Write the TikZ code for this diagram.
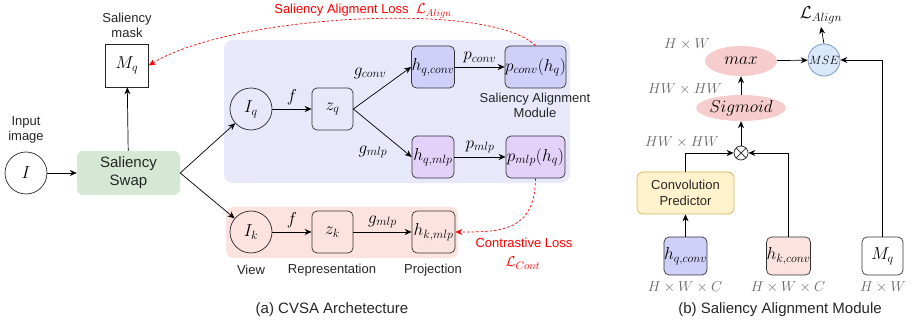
\documentclass[tikz,border=0pt]{standalone}
\usepackage{fontspec}
\setmainfont{Liberation Sans}
\usetikzlibrary{arrows.meta,shapes.geometric}
\definecolor{swapgreen}{HTML}{D5E8D4}
\definecolor{regblue}{HTML}{E8E8FB}
\definecolor{regpink}{HTML}{FCE3E0}
\definecolor{boxblue}{HTML}{CFCFFA}
\definecolor{boxpurple}{HTML}{E3D1FA}
\definecolor{boxpink}{HTML}{FDE3E0}
\definecolor{ellred}{HTML}{F6CCCC}
\definecolor{msefill}{HTML}{DAE8FC}
\definecolor{msedraw}{HTML}{6C8EBF}
\definecolor{cpfill}{HTML}{FFF2CC}
\definecolor{cpdraw}{HTML}{D6B656}
\definecolor{dimgray}{HTML}{666666}
\DeclareMathSizes{16}{16}{12}{9}
\DeclareMathSizes{17}{17}{12.5}{9}
\DeclareMathSizes{18}{18}{13}{9}
\begin{document}
\begin{tikzpicture}[x=1pt,y=-1pt,
  lbl/.style={font=\fontsize{13}{15}\selectfont, align=center, text=black!85},
  captxt/.style={font=\fontsize{15}{17}\selectfont, text=black!85},
  mbox/.style={draw=black!80, line width=0.7pt, rounded corners=5pt, minimum width=42pt, minimum height=42pt, inner sep=0pt, font=\fontsize{16}{18}\selectfont},
  mcirc/.style={circle, draw=black!85, line width=0.7pt, minimum size=42pt, inner sep=0pt, font=\fontsize{17}{19}\selectfont},
  arr/.style={-{Stealth[length=7pt,width=6pt]}, line width=0.7pt},
  redarr/.style={red, dash pattern=on 2.5pt off 2pt, line width=0.7pt, -{Stealth[length=7pt,width=6pt]}},
  elab/.style={font=\fontsize{16}{18}\selectfont},
  dimtxt/.style={text=dimgray, font=\fontsize{15}{17}\selectfont}
]
\useasboundingbox (0,0) rectangle (915,328);

% regions
\fill[regblue, rounded corners=9pt] (224,40) rectangle (570,183);
\fill[regpink, rounded corners=7pt] (226,207) rectangle (458,258);

% left part
\node[mcirc] (I) at (26,173) {$I$};
\node[lbl] (inlbl) at (26,130) {Input\\image};
\node[fill=swapgreen, rounded corners=6pt, minimum width=103pt, minimum height=44pt, inner sep=0pt, align=center, font=\fontsize{15}{18}\selectfont, text=black!85] (swap) at (128.5,173) {Saliency\\Swap};
\node[draw=black!85, line width=0.7pt, minimum size=43pt, inner sep=0pt, font=\fontsize{16}{18}\selectfont] (Mq) at (127,65.5) {$M_q$};
\node[lbl] (mlbl) at (127,25) {Saliency\\mask};
\draw[arr] (I) -- (swap);
\draw[arr] (swap) -- (Mq);

% blue branch
\node[mcirc] (Iq) at (251,109) {$I_q$};
\node[mbox, minimum width=41pt, font=\fontsize{18}{20}\selectfont] (zq) at (332.5,109) {$z_q$};
\node[mbox, fill=boxblue] (hqc) at (433,67) {$h_{q,conv}$};
\node[mbox, fill=boxblue, minimum width=59pt] (pc) at (535.5,67) {$p_{conv}(h_q)$};
\node[mbox, fill=boxpurple] (hqm) at (433,157) {$h_{q,mlp}$};
\node[mbox, fill=boxpurple, minimum width=59pt] (pm) at (535.5,157) {$p_{mlp}(h_q)$};
\node[lbl] (sam) at (535,105) {Saliency Alignment\\Module};

\draw[arr] (swap.east) -- (Iq);
\draw[arr] (Iq) -- node[above, elab] {$f$} (zq);
\draw[arr] (zq.east) -- (hqc.west);
\draw[arr] (zq.east) -- (hqm.west);
\node[elab] (gc) at (370,73) {$g_{conv}$};
\node[elab] (gm) at (373,152) {$g_{mlp}$};
\draw[arr] (hqc) -- node[above, elab] {$p_{conv}$} (pc);
\draw[arr] (hqm) -- node[above, elab] {$p_{mlp}$} (pm);

% pink branch
\node[mcirc] (Ik) at (251,232) {$I_k$};
\node[mbox, minimum width=41pt, font=\fontsize{18}{20}\selectfont] (zk) at (332.5,232) {$z_k$};
\node[mbox, fill=boxpink, minimum width=43pt] (hkm) at (433.5,232) {$h_{k,mlp}$};
\draw[arr] (swap.east) -- (Ik);
\draw[arr] (Ik) -- node[above, elab] {$f$} (zk);
\draw[arr] (zk) -- node[above, elab] {$g_{mlp}$} (hkm);
\node[lbl] (v) at (251,270) {View};
\node[lbl] (r) at (332,270) {Representation};
\node[lbl] (p) at (433,270) {Projection};
\node[captxt] (capa) at (332,310) {(a) CVSA Archetecture};

% red losses
\draw[redarr] (pc.north) .. controls (490,0) and (230,15) .. (Mq.east);
\node[red, font=\fontsize{13}{15}\selectfont, inner sep=1pt] (al) at (363,11) {Saliency Aligment Loss\ \ {\fontsize{14}{15}\selectfont$\mathcal{L}_{Align}$}};
\draw[redarr] (pm.south) .. controls (535,232) and (500,232) .. (hkm.east);
\node[red, font=\fontsize{13}{15}\selectfont, inner sep=1pt] (cl) at (524,243) {Contrastive Loss};
\node[red, font=\fontsize{15}{17}\selectfont, inner sep=1pt] (clm) at (523,263) {$\mathcal{L}_{Cont}$};

% right panel
\node[ellipse, fill=ellred, minimum width=72pt, minimum height=30pt, inner sep=0pt, font=\fontsize{18}{20}\selectfont] (mx) at (741,61) {$max$};
\node[ellipse, fill=ellred, minimum width=68pt, minimum height=26pt, inner sep=0pt, font=\fontsize{16}{18}\selectfont] (sg) at (741,108) {$Sigmoid$};
\node[circle, draw=black!85, line width=0.7pt, minimum size=14pt, inner sep=0pt] (ot) at (741,153) {};
\draw[line width=0.7pt, black!85] (ot.north west) -- (ot.south east) (ot.north east) -- (ot.south west);
\node[circle, fill=msefill, draw=msedraw, line width=0.7pt, minimum size=32pt, inner sep=0pt, font=\fontsize{13}{15}\selectfont] (mse) at (824,60) {$MSE$};
\node[font=\fontsize{17}{19}\selectfont] (la) at (821,15) {$\mathcal{L}_{Align}$};
\node[draw=cpdraw, fill=cpfill, line width=0.7pt, rounded corners=6pt, minimum width=97pt, minimum height=42pt, inner sep=0pt, align=center, font=\fontsize{13}{16}\selectfont, text=black!85] (cp) at (685.5,193) {Convolution\\Predictor};
\node[mbox, fill=boxblue, minimum width=41pt, minimum height=38pt] (hqc2) at (685.5,256) {$h_{q,conv}$};
\node[mbox, fill=boxpink, minimum width=41pt, minimum height=38pt] (hkc2) at (788.5,256) {$h_{k,conv}$};
\node[mbox, fill=white, minimum width=41pt, minimum height=38pt] (mq2) at (882.5,256) {$M_q$};

\draw[arr] (mse.north) -- (la.south);
\draw[arr] (mx) -- (mse);
\draw[arr] (sg) -- (mx);
\draw[arr] (ot) -- (sg);
\draw[arr] (cp.north) |- (ot.west);
\draw[arr] (hkc2.north) |- (ot.east);
\draw[arr] (mq2.north) |- (mse.east);
\draw[arr] (hqc2) -- (cp);

\node[dimtxt] (d1) at (687,44) {$H\times W$};
\node[dimtxt] (d2) at (685,89) {$HW\times HW$};
\node[dimtxt] (d3) at (682,142) {$HW\times HW$};
\node[dimtxt] (d4) at (685,287) {$H\times W\times C$};
\node[dimtxt] (d5) at (788,287) {$H\times W\times C$};
\node[dimtxt] (d6) at (883,287) {$H\times W$};
\node[captxt] (capb) at (780,310) {(b) Saliency Alignment Module};
\end{tikzpicture}
\end{document}
